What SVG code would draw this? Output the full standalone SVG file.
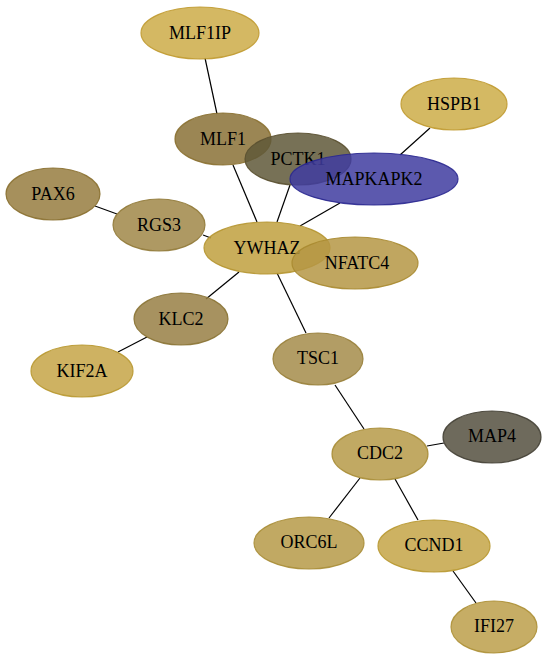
<svg xmlns="http://www.w3.org/2000/svg" width="548" height="661" viewBox="0 0 548 661">
<style>
.n ellipse{stroke-width:1.2;fill-opacity:0.85;stroke-opacity:0.9}
.n text{font-family:"Liberation Serif","Times New Roman",serif;font-size:18px;text-anchor:middle;fill:#000}
#edges line{stroke:#000;stroke-width:1.2}
</style>
<rect width="548" height="661" fill="#fff"/>
<g id="edges">
<line x1="205" y1="58" x2="217" y2="114"/>
<line x1="233" y1="165" x2="257" y2="222"/>
<line x1="290" y1="185" x2="277" y2="222"/>
<line x1="340" y1="203" x2="300" y2="226"/>
<line x1="430" y1="128" x2="400" y2="155"/>
<line x1="95" y1="206" x2="117" y2="214"/>
<line x1="203" y1="235" x2="211" y2="238"/>
<line x1="239" y1="272" x2="206" y2="299"/>
<line x1="147" y1="337" x2="118" y2="352"/>
<line x1="277" y1="273" x2="306" y2="333"/>
<line x1="335" y1="385" x2="364" y2="429"/>
<line x1="427" y1="446" x2="444" y2="443"/>
<line x1="360" y1="478" x2="329" y2="518"/>
<line x1="395" y1="479" x2="418" y2="520"/>
<line x1="453" y1="571" x2="476" y2="603"/>
</g>
<g id="MLF1IP" class="n"><ellipse cx="200" cy="33" rx="59" ry="26" fill="#cdac48" stroke="#c09a30"/><text x="200" y="39">MLF1IP</text></g>
<g id="HSPB1" class="n"><ellipse cx="454" cy="104" rx="53" ry="26" fill="#cdad48" stroke="#c09a30"/><text x="454" y="110">HSPB1</text></g>
<g id="MLF1" class="n"><ellipse cx="223" cy="139" rx="48" ry="26" fill="#8a7136" stroke="#8a7030"/><text x="223" y="145">MLF1</text></g>
<g id="PCTK1" class="n"><ellipse cx="298" cy="159" rx="53" ry="26" fill="#5f5838" stroke="#5a5030"/><text x="298" y="165">PCTK1</text></g>
<g id="MAPKAPK2" class="n"><ellipse cx="374" cy="179" rx="84" ry="26" fill="#3f3ca0" stroke="#2a2890"/><text x="374" y="185">MAPKAPK2</text></g>
<g id="PAX6" class="n"><ellipse cx="53" cy="194" rx="47" ry="26" fill="#977c40" stroke="#8a7030"/><text x="53" y="200">PAX6</text></g>
<g id="RGS3" class="n"><ellipse cx="159" cy="225" rx="46" ry="26" fill="#a08748" stroke="#917a38"/><text x="159" y="231">RGS3</text></g>
<g id="YWHAZ" class="n"><ellipse cx="267" cy="248" rx="63" ry="26" fill="#c0a03e" stroke="#b59530"/><text x="267" y="254">YWHAZ</text></g>
<g id="NFATC4" class="n"><ellipse cx="355" cy="263" rx="63" ry="26" fill="#b59644" stroke="#a88a30"/><text x="357" y="269">NFATC4</text></g>
<g id="KLC2" class="n"><ellipse cx="181" cy="319" rx="47" ry="26" fill="#987f44" stroke="#8a7334"/><text x="181" y="325">KLC2</text></g>
<g id="KIF2A" class="n"><ellipse cx="82" cy="371" rx="51" ry="26" fill="#c5a546" stroke="#b89830"/><text x="82" y="377">KIF2A</text></g>
<g id="TSC1" class="n"><ellipse cx="318" cy="359" rx="45" ry="26" fill="#a58c4a" stroke="#98803a"/><text x="318" y="364">TSC1</text></g>
<g id="CDC2" class="n"><ellipse cx="380" cy="454" rx="48" ry="26" fill="#b69a48" stroke="#a88d36"/><text x="380" y="459">CDC2</text></g>
<g id="MAP4" class="n"><ellipse cx="492" cy="437" rx="49" ry="26" fill="#55503f" stroke="#444035"/><text x="492" y="442">MAP4</text></g>
<g id="ORC6L" class="n"><ellipse cx="309" cy="543" rx="55" ry="26" fill="#b69a48" stroke="#a88d36"/><text x="309" y="548">ORC6L</text></g>
<g id="CCND1" class="n"><ellipse cx="434" cy="546" rx="56" ry="26" fill="#c4a546" stroke="#b89830"/><text x="434" y="551">CCND1</text></g>
<g id="IFI27" class="n"><ellipse cx="494" cy="627" rx="43" ry="26" fill="#bc9f4a" stroke="#ad9036"/><text x="494" y="632">IFI27</text></g>
</svg>
